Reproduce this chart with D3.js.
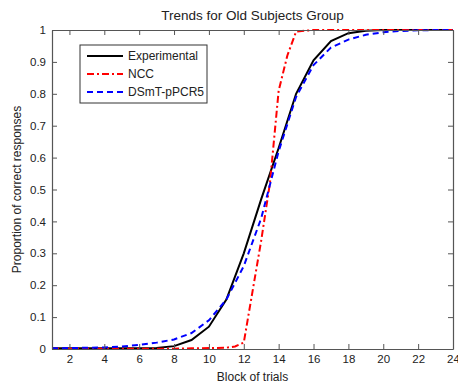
<!DOCTYPE html>
<html>
<head>
<meta charset="utf-8">
<script src="https://cdn.jsdelivr.net/npm/d3@7"></script>
<style>
body { margin: 0; background: #fff; }
text { font-family: "Liberation Sans", Arial, sans-serif; }
</style>
</head>
<body>
<script>
width = 458;
height = 387;

// data
const blocks = [1,2,3,4,5,6,7,8,9,10,11,12,13,14,15,16,17,18,19,20,21,22,23,24];
const experimental = [0.002,0.002,0.002,0.002,0.002,0.002,0.003,0.009,0.028,0.07,0.155,0.30,0.47,0.63,0.80,0.905,0.965,0.99,0.998,1,1,1,1,1];
const dsmt = [0.002,0.003,0.004,0.005,0.008,0.013,0.02,0.03,0.05,0.09,0.155,0.26,0.41,0.62,0.79,0.89,0.945,0.97,0.985,0.993,0.997,0.999,1,1];
const nccBlocks = [1,2,3,4,5,6,7,8,9,10,11,11.5,12,12.5,13,13.5,14,14.5,15,16,17,18,19,20,21,22,23,24];
const ncc = [0.001,0.001,0.001,0.001,0.001,0.001,0.001,0.001,0.002,0.003,0.004,0.008,0.02,0.18,0.34,0.52,0.81,0.92,0.995,1,1,1,1,1,1,1,1,1];
const xTicks = [2,4,6,8,10,12,14,16,18,20,22,24];
const yTicks = [0,0.1,0.2,0.3,0.4,0.5,0.6,0.7,0.8,0.9,1];

const series = [
  {name: "Experimental", xs: blocks, ys: experimental, color: "#000", dash: null},
  {name: "NCC", xs: nccBlocks, ys: ncc, color: "#ff0000", dash: "7,3,2,3"},
  {name: "DSmT-pPCR5", xs: blocks, ys: dsmt, color: "#0000ff", dash: "6,4"}
];

const mLeft = 52, mRight = 453, mTop = 30, mBottom = 349;

const svg = d3.select('body')
  .append('svg')
  .attr('width', width)
  .attr('height', height);

x = d3.scaleLinear().domain([1, 24]).range([mLeft, mRight]);
y = d3.scaleLinear().domain([0, 1]).range([mBottom, mTop]);

// lines
const line = d3.line()
  .x(d => x(d[0]))
  .y(d => y(d[1]));

svg.selectAll("path.series")
  .data(series)
  .enter()
  .append("path")
  .attr("class", "series")
  .attr("fill", "none")
  .attr("stroke", d => d.color)
  .attr("stroke-width", 2)
  .attr("stroke-dasharray", d => d.dash)
  .attr("d", d => line(d.xs.map((v, i) => [v, d.ys[i]])));

// axes, ticks inward like matlab
const axisColor = "#555";

const gx = svg.append("g")
  .attr("transform", `translate(0,${mBottom})`)
  .call(d3.axisBottom(x).tickValues(xTicks).tickSize(-5).tickPadding(6).tickSizeOuter(0));
const gxt = svg.append("g")
  .attr("transform", `translate(0,${mTop})`)
  .call(d3.axisTop(x).tickValues(xTicks).tickSize(-5).tickFormat("").tickSizeOuter(0));
const gy = svg.append("g")
  .attr("transform", `translate(${mLeft},0)`)
  .call(d3.axisLeft(y).tickValues(yTicks).tickSize(-5).tickPadding(6).tickFormat(d3.format("")).tickSizeOuter(0));
const gyr = svg.append("g")
  .attr("transform", `translate(${mRight},0)`)
  .call(d3.axisRight(y).tickValues(yTicks).tickSize(-5).tickFormat("").tickSizeOuter(0));

[gx, gxt, gy, gyr].forEach(g => {
  g.selectAll("path.domain").attr("stroke", axisColor).attr("stroke-width", 1.2);
  g.selectAll("line").attr("stroke", axisColor);
  g.selectAll("text").attr("font-size", 11.5).attr("fill", "#222")
    .attr("font-family", "Liberation Sans, Arial, sans-serif");
});

// title and labels
svg.append("text")
  .attr("x", (mLeft + mRight) / 2)
  .attr("y", 20)
  .attr("text-anchor", "middle")
  .attr("font-size", 13.5)
  .attr("fill", "#222")
  .text("Trends for Old Subjects Group");

svg.append("text")
  .attr("x", (mLeft + mRight) / 2)
  .attr("y", 381)
  .attr("text-anchor", "middle")
  .attr("font-size", 12)
  .attr("fill", "#222")
  .text("Block of trials");

svg.append("text")
  .attr("transform", `translate(21,${(mTop + mBottom) / 2}) rotate(-90)`)
  .attr("text-anchor", "middle")
  .attr("font-size", 12)
  .attr("fill", "#222")
  .text("Proportion of correct responses");

// legend
const legend = svg.append("g").attr("transform", "translate(80,45)");
legend.append("rect")
  .attr("width", 127)
  .attr("height", 58)
  .attr("fill", "#fff")
  .attr("stroke", "#333")
  .attr("stroke-width", 1);

const items = legend.selectAll("g.item")
  .data(series)
  .enter()
  .append("g")
  .attr("class", "item")
  .attr("transform", (d, i) => `translate(0,${11 + i * 18})`);

items.append("line")
  .attr("x1", 7).attr("x2", 43)
  .attr("stroke", d => d.color)
  .attr("stroke-width", 2)
  .attr("stroke-dasharray", d => d.dash);

items.append("text")
  .attr("x", 48)
  .attr("dy", "0.35em")
  .attr("font-size", 12)
  .attr("fill", "#222")
  .text(d => d.name);
</script>
</body>
</html>
